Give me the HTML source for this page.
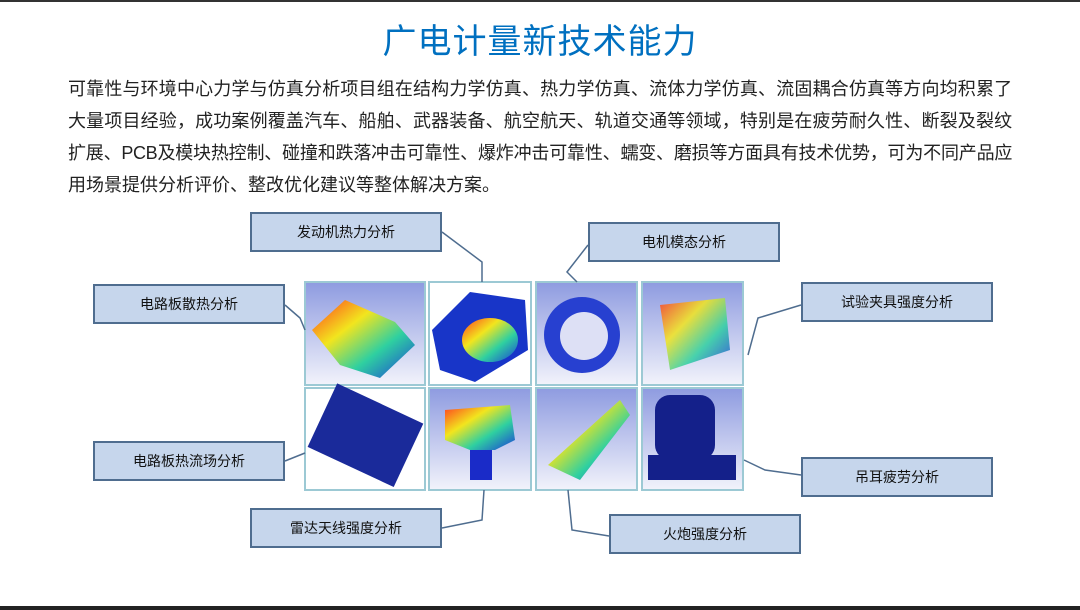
<!DOCTYPE html>
<html><head><meta charset="utf-8"><style>
*{margin:0;padding:0;box-sizing:border-box}
body{width:1080px;height:610px;background:#fff;position:relative;overflow:hidden;font-family:"Liberation Sans","Noto Sans CJK SC",sans-serif}
.top{position:absolute;left:0;top:0;width:1080px;height:2px;background:#333}
.bot{position:absolute;left:0;top:606px;width:1080px;height:4px;background:#222}
h1{position:absolute;left:0;width:1080px;top:14px;text-align:center;font-size:34px;font-weight:normal;color:#0070c0;letter-spacing:1px;font-family:"Noto Sans CJK SC",sans-serif}
.p{position:absolute;left:68px;top:73px;width:944px;font-size:18px;line-height:32px;color:#222}
.p div{text-align:justify;text-align-last:justify;white-space:nowrap}
.p div.l{text-align-last:left}
.lb{position:absolute;width:192px;height:40px;background:#c6d6ec;border:2px solid #4f6d8f;font-size:14px;color:#111;text-align:center;line-height:36px}
svg{position:absolute;left:0;top:0}
</style></head><body>
<div class="top"></div>
<h1>广电计量新技术能力</h1>
<div class="p">
<div style="letter-spacing:-0.1px">可靠性与环境中心力学与仿真分析项目组在结构力学仿真、热力学仿真、流体力学仿真、流固耦合仿真等方向均积累了</div>
<div style="letter-spacing:-0.1px">大量项目经验，成功案例覆盖汽车、船舶、武器装备、航空航天、轨道交通等领域，特别是在疲劳耐久性、断裂及裂纹</div>
<div style="letter-spacing:-0.4px">扩展、PCB及模块热控制、碰撞和跌落冲击可靠性、爆炸冲击可靠性、蠕变、磨损等方面具有技术优势，可为不同产品应</div>
<div class="l">用场景提供分析评价、整改优化建议等整体解决方案。</div>
</div>
<svg width="1080" height="610">
<defs>
<linearGradient id="g" x1="0" y1="0" x2="0" y2="1"><stop offset="0" stop-color="#8e9be0"/><stop offset="1" stop-color="#f2f3fb"/></linearGradient>
<linearGradient id="h" x1="0" y1="0" x2="1" y2="1"><stop offset="0" stop-color="#ff3b1f"/><stop offset=".35" stop-color="#f2e51e"/><stop offset=".65" stop-color="#2fd0a0"/><stop offset="1" stop-color="#1b3fd8"/></linearGradient>
</defs>
<g stroke="#9cc9d4" stroke-width="2">
<rect x="305" y="282" width="120" height="103" fill="url(#g)"/>
<rect x="429" y="282" width="102" height="103" fill="#fff"/>
<rect x="536" y="282" width="101" height="103" fill="url(#g)"/>
<rect x="642" y="282" width="101" height="103" fill="url(#g)"/>
<rect x="305" y="388" width="120" height="102" fill="#fff"/>
<rect x="429" y="388" width="102" height="102" fill="url(#g)"/>
<rect x="536" y="388" width="101" height="102" fill="url(#g)"/>
<rect x="642" y="388" width="101" height="102" fill="url(#g)"/>
</g>
<polygon points="312,330 345,300 395,322 415,345 380,378 340,365" fill="url(#h)"/>
<polygon points="432,330 470,292 525,300 528,350 475,382 440,370" fill="#1835c8"/>
<ellipse cx="490" cy="340" rx="28" ry="22" fill="url(#h)"/>
<circle cx="582" cy="335" r="38" fill="#2740d0"/><circle cx="584" cy="336" r="24" fill="#dde0f5"/>
<polygon points="660,305 725,298 730,350 670,370" fill="url(#h)" opacity=".85"/>
<rect x="318" y="400" width="95" height="70" fill="#1a2a9a" transform="rotate(25 365 435)"/>
<polygon points="445,410 510,405 515,440 495,450 470,450 445,440" fill="url(#h)"/>
<rect x="470" y="450" width="22" height="30" fill="#1a2bc8"/>
<polygon points="548,465 620,400 630,415 580,480" fill="url(#h)"/>
<rect x="655" y="395" width="60" height="65" rx="15" fill="#14208a"/>
<rect x="648" y="455" width="88" height="25" fill="#14208a"/>
<g stroke="#4f6d8f" stroke-width="1.5" fill="none">
<polyline points="442,232 482,262 482,282"/>
<polyline points="588,245 567,272 577,282"/>
<polyline points="285,305 300,318 305,330"/>
<polyline points="801,305 758,318 748,355"/>
<polyline points="285,461 305,453"/>
<polyline points="801,475 765,470 744,460"/>
<polyline points="442,528 482,520 484,490"/>
<polyline points="609,536 572,530 568,490"/>
</g>
</svg>
<div class="lb" style="left:250px;top:212px">发动机热力分析</div>
<div class="lb" style="left:588px;top:222px">电机模态分析</div>
<div class="lb" style="left:93px;top:284px">电路板散热分析</div>
<div class="lb" style="left:801px;top:282px">试验夹具强度分析</div>
<div class="lb" style="left:93px;top:441px">电路板热流场分析</div>
<div class="lb" style="left:801px;top:457px">吊耳疲劳分析</div>
<div class="lb" style="left:250px;top:508px">雷达天线强度分析</div>
<div class="lb" style="left:609px;top:514px">火炮强度分析</div>
<div class="bot"></div>
</body></html>
